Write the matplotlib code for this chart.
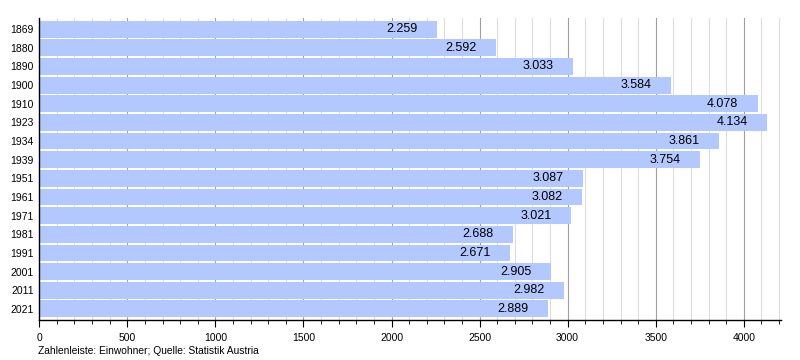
import matplotlib

matplotlib.use("Agg")
import matplotlib.pyplot as plt
from matplotlib.ticker import MultipleLocator

years = ["1869", "1880", "1890", "1900", "1910", "1923", "1934", "1939",
         "1951", "1961", "1971", "1981", "1991", "2001", "2011", "2021"]
population = [2259, 2592, 3033, 3584, 4078, 4134, 3861, 3754,
              3087, 3082, 3021, 2688, 2671, 2905, 2982, 2889]

plt.rcParams["font.family"] = ["Liberation Sans", "DejaVu Sans"]

fig = plt.figure(figsize=(8, 3.6), dpi=100)
ax = fig.add_axes([0.049, 0.111, 0.927, 0.839])

pos = range(len(years))
ax.barh(pos, population, height=0.9, color="#b3c8ff", zorder=2)
for y, v in zip(pos, population):
    label = f"{v:,}".replace(",", ".")
    ax.annotate(label, (v, y), xytext=(-14, 0), textcoords="offset points",
                ha="right", va="center", fontsize=9, zorder=3)

ax.set_xlim(0, 4210)
ax.set_ylim(len(years) - 0.5 + 0.1, -0.5 - 0.1)
ax.set_yticks(list(pos))
ax.set_yticklabels(years, fontsize=7.5)
ax.tick_params(axis="y", length=0, pad=4)

ax.xaxis.set_major_locator(MultipleLocator(500))
ax.xaxis.set_minor_locator(MultipleLocator(100))
ax.tick_params(axis="x", which="major", length=5, direction="out", labelsize=7.5, pad=4)
ax.tick_params(axis="x", which="minor", length=3, direction="out")
ax.grid(axis="x", which="major", color="#a0a0a0", linewidth=0.8, zorder=0)
ax.grid(axis="x", which="minor", color="#dddddd", linewidth=0.8, zorder=0)
ax.grid(axis="y", visible=False)
ax.set_axisbelow(True)

for side in ("top", "right"):
    ax.spines[side].set_visible(False)
for side in ("left", "bottom"):
    ax.spines[side].set_color("black")
    ax.spines[side].set_linewidth(1)

fig.text(0.0475, 0.017, "Zahlenleiste: Einwohner; Quelle: Statistik Austria", fontsize=7.4)

fig.savefig("out.png", dpi=100)
